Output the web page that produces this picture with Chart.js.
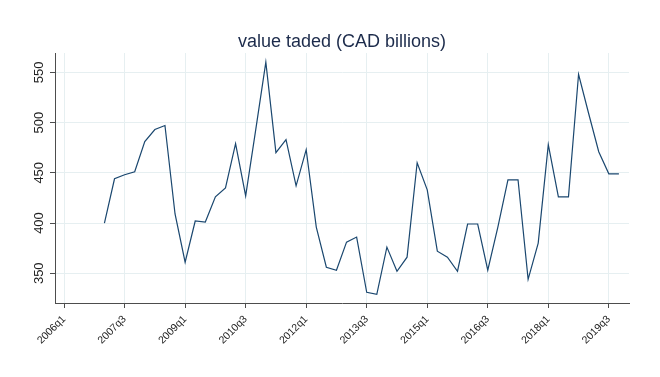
<!DOCTYPE html>
<html>
<head>
<meta charset="utf-8">
<script src="https://cdn.jsdelivr.net/npm/chart.js@4/dist/chart.umd.min.js"></script>
<style>
  html, body { margin: 0; padding: 0; background: #ffffff; }
  #wrap { width: 660px; height: 377px; position: relative; }
</style>
</head>
<body>
<div id="wrap"><canvas id="c" width="660" height="377"></canvas></div>
<script>
// Categories: quarters 2006q1 .. 2019q4
const quarters = [];
for (let y = 2006; y <= 2019; y++) { for (let q = 1; q <= 4; q++) quarters.push(y + 'q' + q); }

// Value traded (CAD billions), per quarter (null = no data)
const values = [
  null, null, null, null,          // 2006
  400, 444, 448, 451,              // 2007
  481, 493, 497, 409,              // 2008
  361, 402, 401, 426,              // 2009
  435, 479, 427, 493,              // 2010
  560, 470, 483, 437,              // 2011
  473, 396, 356, 353,              // 2012
  381, 386, 331, 329,              // 2013
  376, 352, 366, 460,              // 2014
  433, 372, 366, 352,              // 2015
  399, 399, 353, 396,              // 2016
  443, 443, 344, 380,              // 2017
  478, 426, 426, 548,              // 2018
  509, 471, 449, 449               // 2019
];

// x-axis tick labels
const tickLabels = ['2006q1','2007q3','2009q1','2010q3','2012q1','2013q3','2015q1','2016q3','2018q1','2019q3'];
// y-axis tick values
const yTicks = [350, 400, 450, 500, 550];

const points = [];
values.forEach((v, i) => { if (v !== null) points.push({ x: i, y: v }); });

const gridColor = '#e6eff1';
const axisColor = '#4d4d4d';

new Chart(document.getElementById('c'), {
  type: 'line',
  data: {
    datasets: [{
      label: 'value traded',
      data: points,
      borderColor: '#1a476f',
      borderWidth: 1.2,
      pointRadius: 0,
      tension: 0,
      fill: false
    }]
  },
  options: {
    responsive: false,
    animation: false,
    devicePixelRatio: 1,
    layout: { padding: { left: 0, right: 31, top: 0, bottom: 0 } },
    plugins: {
      legend: { display: false },
      tooltip: { enabled: false },
      title: {
        display: true,
        fullSize: false,
        text: 'value taded (CAD billions)',
        color: '#1c2b4b',
        font: { family: 'Liberation Sans, Arial, sans-serif', size: 18, weight: 'normal' },
        padding: { top: 31, bottom: 0.4 }
      }
    },
    scales: {
      x: {
        type: 'linear',
        min: -0.9,
        max: 56,
        afterBuildTicks: (scale) => {
          scale.ticks = tickLabels.map(l => ({ value: quarters.indexOf(l) }));
        },
        afterFit: (scale) => { scale.height = 74; },
        ticks: {
          autoSkip: false,
          minRotation: 45,
          maxRotation: 45,
          padding: 5,
          color: '#222222',
          font: { family: 'Liberation Sans, Arial, sans-serif', size: 10.5 },
          callback: (v) => quarters[v]
        },
        grid: { color: gridColor, lineWidth: 1, tickLength: 5, tickColor: axisColor },
        border: { display: true, color: axisColor, width: 1 }
      },
      y: {
        type: 'linear',
        min: 320.4,
        max: 569.2,
        afterBuildTicks: (scale) => {
          scale.ticks = yTicks.map(v => ({ value: v }));
        },
        afterFit: (scale) => { scale.width = 55; },
        ticks: {
          minRotation: 90,
          maxRotation: 90,
          crossAlign: 'center',
          padding: 0,
          color: '#222222',
          font: { family: 'Liberation Sans, Arial, sans-serif', size: 13 }
        },
        grid: { color: gridColor, lineWidth: 1, tickLength: 5, tickColor: axisColor },
        border: { display: true, color: axisColor, width: 1 }
      }
    }
  }
});
</script>
</body>
</html>
